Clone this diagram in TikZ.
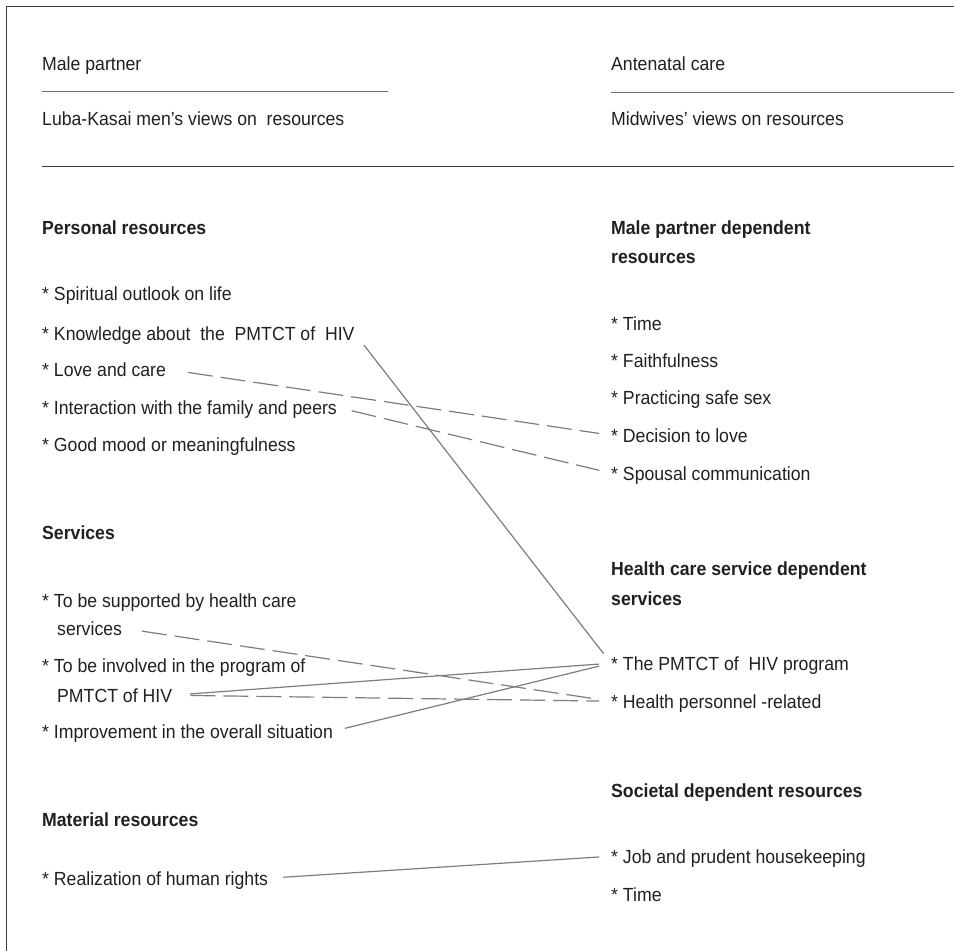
\documentclass[tikz,border=0pt]{standalone}
\usepackage{fontspec}
\setmainfont{Liberation Sans}[FakeStretch=0.93]
\usepackage{tikz}
\definecolor{textcol}{HTML}{231F20}
\definecolor{linegray}{HTML}{7D7D7D}
\definecolor{rulegray}{HTML}{6E6E6E}
\definecolor{framegray}{HTML}{3A3A3A}
\begin{document}
\begin{tikzpicture}[x=1pt, y=-1pt,
		head_style/.style={anchor=base west,inner sep=0pt,text=textcol,font=\fontsize{19}{29}\selectfont,text height=13.6pt,text depth=0pt},
		item_style/.style={head_style},
		title_style/.style={head_style,font=\fontsize{19}{29}\selectfont\bfseries},
		rule_style/.style={draw=rulegray,line width=1pt},
		edge_style/.style={draw=linegray,line width=1.2pt,shorten <=15pt,shorten >=12pt},
		dash_style/.style={edge_style,dash pattern=on 25pt off 8pt}]
		
		\useasboundingbox (0,0) rectangle (954,951);
		\draw[draw=framegray,line width=1pt] (954,6) -- (6,6) -- (6,951);
		
		\node[head_style] (mp) at (42,70)  {Male partner};
		\node[head_style] (luba) at (42,125)  {Luba-Kasai men’s views on~ resources};
		\node[head_style] (anc) at (611,70)  {Antenatal care};
		\node[head_style] (midw) at (611,125)  {Midwives’ views on resources};
		\draw[rule_style] (42,91) -- (388,91);
		\draw[rule_style] (611,92) -- (954,92);
		\draw[rule_style,draw=framegray] (42,166) -- (954,166);
		
		\node[title_style] (pers) at (42,234)  {Personal resources};
		\node[item_style] (spir) at (42,300)  {* Spiritual outlook on life};
		\node[item_style] (know) at (42,340)  {* Knowledge about~ the~ PMTCT of~ HIV};
		\node[item_style] (love) at (42,376)  {* Love and care};
		\node[item_style] (inter) at (42,414)  {* Interaction with the family and peers};
		\node[item_style] (mood) at (42,451)  {* Good mood or meaningfulness};
		\node[title_style] (serv) at (42,539)  {Services};
		\node[item_style] (supp) at (42,607)  {* To be supported by health care};
		\node[item_style] (supp2) at (57,635)  {services};
		\node[item_style] (invo) at (42,672)  {* To be involved in the program of};
		\node[item_style] (invo2) at (57,702)  {PMTCT of HIV};
		\node[item_style] (impr) at (42,738)  {* Improvement in the overall situation};
		\node[title_style] (mat) at (42,826)  {Material resources};
		\node[item_style] (real) at (42,885)  {* Realization of human rights};
		
		\node[title_style] (male) at (611,234)  {Male partner dependent};
		\node[title_style] (male2) at (611,263)  {resources};
		\node[item_style] (time) at (611,330)  {* Time};
		\node[item_style] (faith) at (611,367)  {* Faithfulness};
		\node[item_style] (safe) at (611,404)  {* Practicing safe sex};
		\node[item_style] (dec) at (611,442)  {* Decision to love};
		\node[item_style] (spou) at (611,480)  {* Spousal communication};
		\node[title_style] (hcs) at (611,575)  {Health care service dependent};
		\node[title_style] (hcs2) at (611,605)  {services};
		\node[item_style] (prog) at (611,670)  {* The PMTCT of~ HIV program};
		\node[item_style] (hpers) at (611,708)  {* Health personnel -related};
		\node[title_style] (soc) at (611,797)  {Societal dependent resources};
		\node[item_style] (job) at (611,863)  {* Job and prudent housekeeping};
		\node[item_style] (time2) at (611,901)  {* Time};
		
		\draw[edge_style]  (know.east) -- (prog.west);
		\draw[dash_style,shorten <=22pt]  (love.east) -- (dec.west);
		\draw[dash_style]  (inter.east) -- (spou.west);
		\draw[dash_style,shorten <=20pt]  (supp2.east) -- (hpers.west);
		\draw[edge_style,shorten <=18pt]  (invo2.east) -- (prog.west);
		\draw[dash_style,shorten <=18pt]  (invo2.east) -- (hpers.west);
		\draw[edge_style,shorten <=12pt]  (impr.east) -- (prog.west);
		\draw[edge_style]  (real.east) -- (job.west);
\end{tikzpicture}
\end{document}
